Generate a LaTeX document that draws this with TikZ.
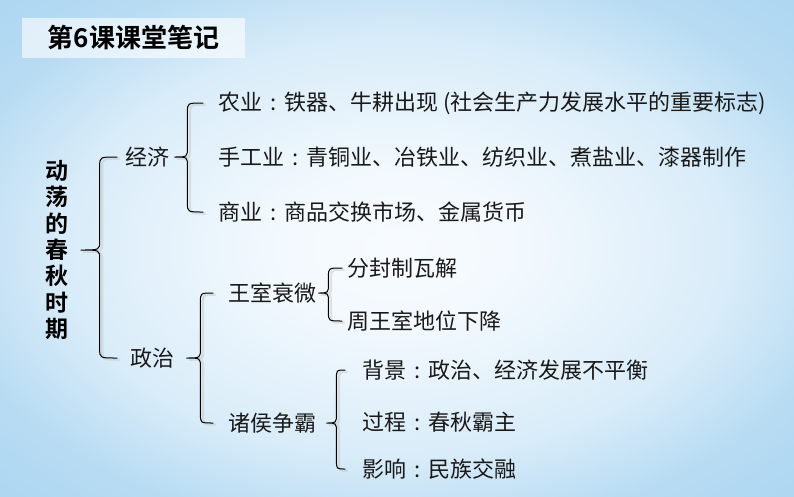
\documentclass[tikz,border=0pt]{standalone}
\usepackage{fontspec}
\setmainfont{Noto Sans CJK SC}[BoldFont={Noto Sans CJK SC Bold}]
\usetikzlibrary{calc}

\pgfdeclareradialshading{slidebg}{\pgfpoint{0bp}{0bp}}{rgb(0bp)=(0.97,0.985,1);rgb(8bp)=(0.95,0.975,0.995);rgb(21bp)=(0.85,0.925,0.975);rgb(29bp)=(0.72,0.86,0.95);rgb(50bp)=(0.6,0.8,0.94)}

\newcommand{\cn}{\makebox[1em]{:}}
% brace: tip, top end, bottom end, depth
\newcommand{\curly}[4]{%
  \draw[brace] let \p1=(#1), \p2=(#2), \p3=(#3) in
    (\x2,\y2) .. controls (\x1+#4,\y2) .. (\x1+#4,\y2-9pt)
    -- (\x1+#4,\y1+9pt) .. controls (\x1+#4,\y1) .. (\x1,\y1)
    .. controls (\x1+#4,\y1) .. (\x1+#4,\y1-9pt)
    -- (\x1+#4,\y3+9pt) .. controls (\x1+#4,\y3) .. (\x3,\y3);}

\begin{document}
\begin{tikzpicture}[x=1pt,y=-1pt,
  txt/.style={anchor=west,inner sep=0pt,font=\fontsize{22}{22}\selectfont,text=black!90},
  brace/.style={line width=1pt,line cap=round,
    preaction={draw=gray!50,line width=2.5pt,opacity=.4,transform canvas={xshift=2.5pt,yshift=-1.5pt}}}]
  \useasboundingbox (0,0) rectangle (794,496);
  \shade[shading=slidebg] (0,0) rectangle (794,496);
  \node[fill=white,fill opacity=.6,text opacity=1,minimum width=223pt,minimum height=40pt,
        font=\fontsize{26}{26}\selectfont\bfseries] (title) at (133.5,38) {第6课课堂笔记};

  \node[inner sep=0pt,align=center,font=\fontsize{23}{26.3}\selectfont\bfseries] (topic) at (57,250)
    {动\\荡\\的\\春\\秋\\时\\期};

  \node[txt] (jingji) at (125,157) {经济};
  \node[txt] (zhengzhi) at (130,358) {政治};

  \node[txt] (nongye) at (218,103) {农业\cn 铁器、牛耕出现 (社会生产力发展水平的重要标志)};
  \node[txt] (shougong) at (218,157) {手工业\cn 青铜业、冶铁业、纺织业、煮盐业、漆器制作};
  \node[txt] (shangye) at (218,212) {商业\cn 商品交换市场、金属货币};

  \node[txt] (wangshi) at (228,293) {王室衰微};
  \node[txt] (zhuhou) at (228,423) {诸侯争霸};
  \node[txt] (fenfeng) at (347,268) {分封制瓦解};
  \node[txt] (zhouwang) at (347,321) {周王室地位下降};
  \node[txt] (beijing) at (362,370) {背景\cn 政治、经济发展不平衡};
  \node[txt] (guocheng) at (362,422) {过程\cn 春秋霸主};
  \node[txt] (yingxiang) at (362,469) {影响\cn 民族交融};

  \curly{[xshift=12pt]topic.east}{[xshift=-8pt]jingji.west}{[xshift=-13pt]zhengzhi.west}{19pt}
  \curly{[xshift=5pt]jingji.east}{[xshift=-15pt]nongye.west}{[xshift=-15pt]shangye.west}{13pt}
  \curly{[xshift=12pt]zhengzhi.east}{[xshift=-15pt]wangshi.west}{[xshift=-15pt]zhuhou.west}{14pt}
  \curly{[xshift=2pt]wangshi.east}{[xshift=-5pt]fenfeng.west}{[xshift=-5pt]zhouwang.west}{10pt}
  \curly{[xshift=10pt]zhuhou.east}{[xshift=-17pt]beijing.west}{[xshift=-17pt]yingxiang.west}{10pt}
\end{tikzpicture}
\end{document}
